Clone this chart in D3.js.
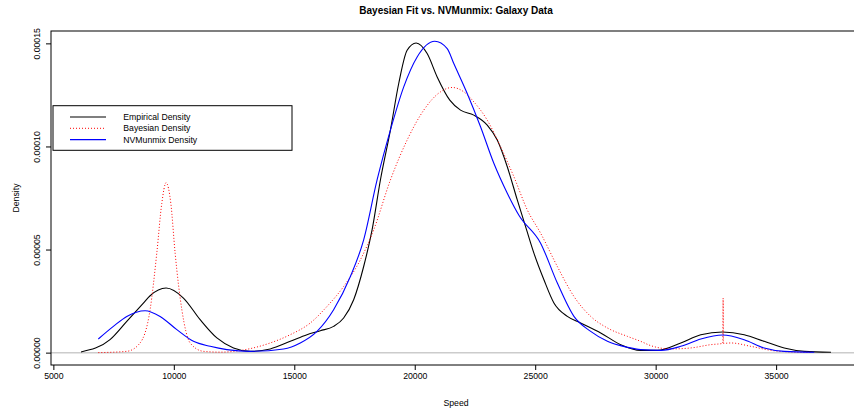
<!DOCTYPE html>
<html>
<head>
<meta charset="utf-8">
<script src="https://cdn.jsdelivr.net/npm/d3@7"></script>
<style>
body { margin: 0; background: #fff; }
text { font-family: "Liberation Sans", Arial, sans-serif; fill: #000; }
</style>
</head>
<body>
<div id="content"></div>
<script>
// density curves (speed, density)
var empSpeed = [6147, 7352, 8047, 8737, 9015, 9680, 10399, 11093, 11787, 12477, 13171, 14002, 14834, 15528,
    16081, 16633, 17049, 17465, 17880, 18229, 18575, 18990, 19335, 19684, 20058, 20515, 20931, 21455, 21900,
    22452, 23009, 23425, 23841, 24256, 24643, 24946, 25362, 25777, 26334, 26887, 27718, 28549, 29381, 30075,
    31043, 31875, 32777, 33675, 34505, 35337, 36168, 37278];
var empDens = [0.034, 0.629, 1.515, 2.405, 2.759, 3.132, 2.648, 1.597, 0.712, 0.227, 0.063, 0.179, 0.547, 0.871,
    1.065, 1.273, 1.680, 2.565, 4.177, 5.954, 8.374, 10.794, 13.054, 14.666, 15.019, 14.506, 13.374, 12.246, 11.762,
    11.520, 11.036, 10.310, 9.018, 7.406, 5.954, 4.826, 3.533, 2.406, 1.757, 1.438, 0.954, 0.387, 0.111, 0.111,
    0.469, 0.871, 1.002, 0.871, 0.547, 0.227, 0.063, 0.015];

var bayesSpeed = [6866, 8047, 8599, 9015, 9293, 9501, 9680, 9875, 10054, 10333, 10677, 11230, 11924, 13171,
    14002, 14834, 15665, 16359, 17049, 17743, 18296, 18990, 19684, 20374, 21068, 21554, 22037, 22452, 23009,
    23562, 24115, 24672, 25224, 25919, 26608, 27303, 27997, 28828, 29381, 29796, 30628, 31459, 32290, 32790,
    32800, 32810, 33121, 33952, 34783, 35615, 36446];
var bayesDens = [0.000, 0.063, 0.469, 2.081, 4.826, 7.246, 8.243, 7.246, 4.826, 2.081, 0.469, 0.063, 0.024, 0.194,
    0.469, 0.871, 1.438, 2.241, 3.209, 4.501, 5.954, 8.374, 10.310, 11.762, 12.648, 12.861, 12.648, 12.164, 11.278,
    9.985, 8.533, 6.922, 5.794, 4.177, 2.725, 1.757, 1.196, 0.789, 0.547, 0.339, 0.179, 0.227, 0.387, 0.450,
    2.648, 0.450, 0.469, 0.305, 0.111, 0.034, 0.015];

var nvmSpeed = [6866, 7490, 8047, 8807, 9431, 10125, 10815, 11509, 12203, 13171, 14555, 15249, 15943, 16633,
    17328, 17880, 18437, 18990, 19543, 20100, 20831, 21347, 21621, 22178, 22731, 23283, 23841, 24330, 25224,
    25919, 26608, 27303, 27997, 28828, 29381, 30212, 31043, 31875, 32777, 33675, 34505, 35337, 36584];
var nvmDens = [0.663, 1.273, 1.757, 2.033, 1.757, 1.113, 0.547, 0.305, 0.145, 0.063, 0.179, 0.469, 1.031, 2.081,
    3.693, 5.470, 8.374, 10.794, 12.890, 14.342, 15.102, 14.748, 14.022, 12.570, 10.954, 9.182, 7.730, 6.650, 5.310,
    3.374, 1.757, 1.031, 0.547, 0.257, 0.145, 0.111, 0.305, 0.663, 0.857, 0.629, 0.227, 0.063, 0.015];

var xTicks = [5000, 10000, 15000, 20000, 25000, 30000, 35000];
var yTicks = [0, 0.00005, 0.0001, 0.00015];
var yLimits = [0, 0.00015];
var legendLabels = ["Empirical Density", "Bayesian Density", "NVMunmix Density"];
var densUnit = 1e-5;

var W = 854, H = 412;
var margin = { top: 31, right: -7, bottom: 47, left: 51 },
    w = W - margin.left - margin.right,
    h = H - margin.top - margin.bottom;

// pairs of speed / density for a curve
function toPoints(xs, ys) {
    return xs.map(function(d, i) {
        return { x: d, y: ys[i] * densUnit }; });
}

var series = [
    { name: legendLabels[0], pts: toPoints(empSpeed, empDens), color: "#000", dash: null, sw: 1.1 },
    { name: legendLabels[1], pts: toPoints(bayesSpeed, bayesDens), color: "#ff0000", dash: "1,2", sw: 1 },
    { name: legendLabels[2], pts: toPoints(nvmSpeed, nvmDens), color: "#0000ff", dash: null, sw: 1.1 }
];

// R style limits: data range padded by 4% each side
function pad(lim) {
    var r = lim[1] - lim[0];
    return [lim[0] - 0.04 * r, lim[1] + 0.04 * r];
}

var xScale = d3.scaleLinear().domain(pad(d3.extent(empSpeed))).range([0, w]),
    yScale = d3.scaleLinear().domain(pad(yLimits)).range([h, 0]);

var svg = d3.select("#content").append("svg")
    .attr("width", W)
    .attr("height", H)
    .append("g")
    .attr("transform", "translate(" + margin.left + "," + margin.top + ")");

// zero line
svg.append("line")
    .attr("x1", 0)
    .attr("x2", w)
    .attr("y1", yScale(0))
    .attr("y2", yScale(0))
    .style("stroke", "#cccccc")
    .style("stroke-width", 1.5);

var line = d3.line()
    .x(function(d) { return xScale(d.x); })
    .y(function(d) { return yScale(d.y); })
    .curve(d3.curveMonotoneX);

svg.selectAll(".curve")
    .data(series)
    .enter()
    .append("path")
    .attr("class", "curve")
    .attr("d", function(d) { return line(d.pts); })
    .style("fill", "none")
    .style("stroke", function(d) { return d.color; })
    .style("stroke-width", function(d) { return d.sw; })
    .style("stroke-dasharray", function(d) { return d.dash; });

// box round the plot
svg.append("rect")
    .attr("x", 0)
    .attr("y", 0)
    .attr("width", w)
    .attr("height", h)
    .style("fill", "none")
    .style("stroke", "#000")
    .style("stroke-width", 1);

var xAxis = d3.axisBottom(xScale).tickValues(xTicks).tickSize(5).tickPadding(3).tickFormat(d3.format("d")),
    yAxis = d3.axisLeft(yScale).tickValues(yTicks).tickSize(5).tickFormat(d3.format(".5f"));

var gx = svg.append("g")
    .attr("class", "x axis")
    .attr("transform", "translate(0," + h + ")")
    .call(xAxis);
gx.select(".domain").remove();
gx.selectAll("text").style("font-size", "8.7px").style("fill", "#000");

var gy = svg.append("g")
    .attr("class", "y axis")
    .call(yAxis);
gy.select(".domain").remove();
gy.selectAll("text")
    .style("font-size", "8.7px")
    .style("fill", "#000")
    .attr("text-anchor", "middle")
    .attr("x", null)
    .attr("dy", null)
    .attr("transform", "translate(-11.5,0) rotate(-90)");

svg.append("text")
    .attr("text-anchor", "middle")
    .attr("x", w / 2)
    .attr("y", -17.5)
    .style("font-size", "10px")
    .style("font-weight", "bold")
    .text("Bayesian Fit vs. NVMunmix: Galaxy Data");

svg.append("text")
    .attr("text-anchor", "middle")
    .attr("x", w / 2)
    .attr("y", h + 40.5)
    .style("font-size", "8.7px")
    .text("Speed");

svg.append("text")
    .attr("text-anchor", "middle")
    .attr("transform", "translate(" + (18.5 - margin.left) + "," + (h / 2) + ") rotate(-90)")
    .style("font-size", "8.7px")
    .text("Density");

// legend
var leg = svg.append("g")
    .attr("transform", "translate(2," + (105.7 - margin.top) + ")");

leg.append("rect")
    .attr("width", 239)
    .attr("height", 44.6)
    .style("fill", "#fff")
    .style("stroke", "#000")
    .style("stroke-width", 1);

var row = leg.selectAll(".row")
    .data(series)
    .enter()
    .append("g")
    .attr("class", "row")
    .attr("transform", function(d, i) {
        return "translate(0," + (11.3 + i * 11.3) + ")"; });

row.append("line")
    .attr("x1", 17)
    .attr("x2", 53)
    .style("stroke", function(d) { return d.color; })
    .style("stroke-width", function(d) { return d.sw; })
    .style("stroke-dasharray", function(d) { return d.dash; });

row.append("text")
    .attr("x", 70.3)
    .attr("dy", "0.35em")
    .style("font-size", "8.7px")
    .text(function(d) { return d.name; });
</script>
</body>
</html>
